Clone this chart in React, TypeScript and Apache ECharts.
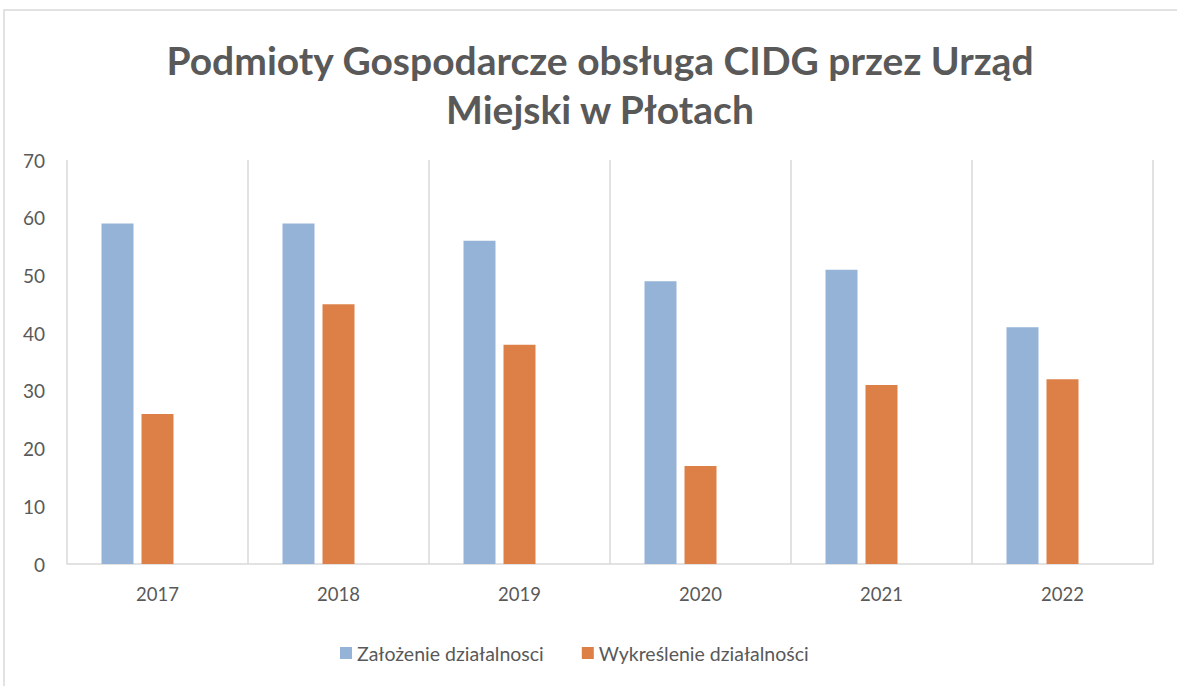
import React, { useEffect, useRef } from "react";
import * as echarts from "echarts";

const years = ["2017", "2018", "2019", "2020", "2021", "2022"];
const zalozenie = [59, 59, 56, 49, 51, 41];
const wykreslenie = [26, 45, 38, 17, 31, 32];
const empty = [null, null, null, null, null, null];
const seriesNames = ["Założenie działalnosci", "Wykreślenie działalności"];
const titleText = "Podmioty Gospodarcze obsługa CIDG przez Urząd\nMiejski w Płotach";

export default function App() {
  const ref = useRef<HTMLDivElement>(null);
  useEffect(() => {
    document.body.style.margin = "0";
    const chart = echarts.init(ref.current!, null, { renderer: "svg" });
    const font = "Lato, 'Open Sans', sans-serif";
    chart.setOption({
      animation: false,
      backgroundColor: "#ffffff",
      graphic: [
        {
          type: "rect",
          shape: { x: 4, y: 10, width: 1190, height: 700 },
          style: { fill: "none", stroke: "#d9d9d9", lineWidth: 1.5 },
          silent: true,
        },
      ],
      title: {
        text: titleText,
        left: 595,
        textAlign: "center",
        top: 30,
        textStyle: {
          fontFamily: font,
          fontWeight: "bold",
          fontSize: 39,
          lineHeight: 49,
          color: "#595959",
        },
      },
      legend: {
        data: seriesNames,
        bottom: 18,
        left: 335,
        itemWidth: 12,
        itemHeight: 12,
        itemGap: 38,
        icon: "rect",
        textStyle: { fontFamily: font, fontSize: 19.5, color: "#595959" },
      },
      grid: { left: 67, right: 24, top: 160, bottom: 122 },
      xAxis: {
        type: "category",
        data: years,
        axisLine: { lineStyle: { color: "#d9d9d9", width: 1.5 } },
        axisTick: { show: false },
        splitLine: { show: true, interval: 0, lineStyle: { color: "#d9d9d9", width: 1.5 } },
        axisLabel: { fontFamily: font, fontSize: 18.5, color: "#595959", margin: 20 },
      },
      yAxis: {
        type: "value",
        min: 0,
        max: 70,
        interval: 10,
        axisLine: { show: false },
        axisTick: { show: false },
        splitLine: { show: false },
        axisLabel: { fontFamily: font, fontSize: 19, color: "#595959", margin: 22 },
      },
      series: [
        {
          name: seriesNames[0],
          type: "bar",
          data: zalozenie,
          itemStyle: { color: "#95b3d7" },
          barWidth: 32,
          barGap: "25%",
        },
        {
          name: seriesNames[1],
          type: "bar",
          data: wykreslenie,
          itemStyle: { color: "#dd8047" },
          barWidth: 32,
          barGap: "25%",
        },
        {
          name: "",
          type: "bar",
          data: empty,
          barWidth: 32,
          barGap: "25%",
        },
      ],
    });
    return () => chart.dispose();
  }, []);
  return (
    <div
      ref={ref}
      style={{ position: "fixed", left: 0, top: 0, width: 1177, height: 686 }}
    />
  );
}
